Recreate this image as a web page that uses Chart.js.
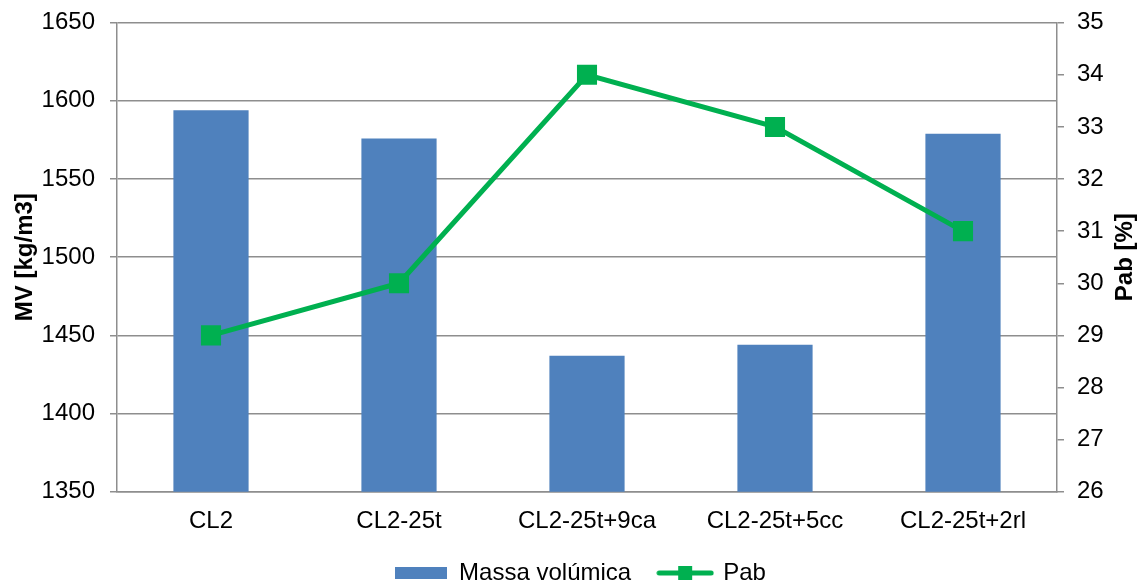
<!DOCTYPE html>
<html>
<head>
<meta charset="utf-8">
<script src="https://cdn.jsdelivr.net/npm/chart.js@4/dist/chart.umd.min.js"></script>
<style>
html,body{margin:0;padding:0;background:#fff;}
#wrap{width:1141px;height:583px;}
</style>
</head>
<body>
<div id="wrap"><canvas id="c" width="1141" height="583"></canvas></div>
<script>
const categories = ['CL2', 'CL2-25t', 'CL2-25t+9ca', 'CL2-25t+5cc', 'CL2-25t+2rl'];
const massaVolumica = [1594, 1576, 1437, 1444, 1579];
const pab = [29, 30, 34, 33, 31];
const leftTicks = [1350, 1400, 1450, 1500, 1550, 1600, 1650];
const rightTicks = [26, 27, 28, 29, 30, 31, 32, 33, 34, 35];

const BLUE = '#4F81BD';
const GREEN = '#00B050';
const GRID = '#8E8E8E';
const FONT = "'Liberation Sans', Arial, sans-serif";
const FS = 24;

function barLegendImg() {
  const c = document.createElement('canvas');
  c.width = 52; c.height = 12;
  const x = c.getContext('2d');
  x.fillStyle = BLUE; x.fillRect(0, 0, 52, 12);
  return c;
}
function lineLegendImg() {
  const c = document.createElement('canvas');
  c.width = 58; c.height = 16;
  const x = c.getContext('2d');
  x.strokeStyle = GREEN; x.lineWidth = 5; x.lineCap = 'round';
  x.beginPath(); x.moveTo(3, 8); x.lineTo(55, 8); x.stroke();
  x.fillStyle = GREEN; x.fillRect(22, 1, 14, 14);
  return c;
}

const rightTitle = {
  id: 'rightTitle',
  afterDraw(chart) {
    const ctx = chart.ctx, a = chart.chartArea;
    ctx.save();
    ctx.translate(1125, (a.top + a.bottom) / 2);
    ctx.rotate(-Math.PI / 2);
    ctx.font = "bold " + FS + "px " + FONT;
    ctx.fillStyle = '#000';
    ctx.textAlign = 'center';
    ctx.textBaseline = 'middle';
    ctx.fillText('Pab [%]', 0, 0);
    ctx.restore();
  }
};

const legendFix = {
  id: 'legendFix',
  afterInit(chart) {
    const lg = chart.legend;
    if (!lg) return;
    const orig = lg.fit.bind(lg);
    lg.fit = function () { orig(); this.height = 50; };
  },
  afterLayout(chart) {
    const lg = chart.legend;
    if (!lg) return;
    lg.left += 10; lg.right += 10;
  }
};

new Chart(document.getElementById('c'), {
  data: {
    labels: categories,
    datasets: [
      {
        type: 'bar', label: 'Massa volúmica', data: massaVolumica,
        backgroundColor: BLUE, yAxisID: 'y', order: 2,
        barPercentage: 0.4, categoryPercentage: 1.0
      },
      {
        type: 'line', label: 'Pab', data: pab, yAxisID: 'y1', order: 1,
        borderColor: GREEN, backgroundColor: GREEN, borderWidth: 5,
        pointStyle: 'rect', pointRadius: 14.2, pointHoverRadius: 14.2,
        pointBackgroundColor: GREEN, pointBorderWidth: 0, tension: 0
      }
    ]
  },
  options: {
    responsive: false,
    animation: false,
    layout: { padding: { top: 0, left: 0, right: 0, bottom: 0 } },
    plugins: {
      tooltip: { enabled: false },
      legend: {
        position: 'bottom',
        labels: {
          usePointStyle: true,
          pointStyleWidth: 52,
          padding: 28,
          color: '#000',
          font: { family: FONT, size: FS },
          generateLabels(chart) {
            return chart.data.datasets.map((ds, i) => ({
              text: ds.label,
              datasetIndex: i,
              pointStyle: i === 0 ? barLegendImg() : lineLegendImg(),
              fillStyle: ds.backgroundColor,
              strokeStyle: ds.backgroundColor,
              lineWidth: 0,
              hidden: false,
              fontColor: '#000'
            }));
          }
        }
      }
    },
    scales: {
      x: {
        grid: { display: false, drawTicks: false },
        border: { display: true, color: GRID, width: 1.5 },
        afterFit(s) { s.height = 41.3; },
        ticks: { color: '#000', padding: 15, font: { family: FONT, size: FS }, maxRotation: 0 }
      },
      y: {
        position: 'left',
        min: 1350, max: 1650,
        afterBuildTicks(s) { s.ticks = leftTicks.map(v => ({ value: v })); },
        afterFit(s) { s.width = 117; s.paddingTop = 22.7; },
        grid: { color: GRID, lineWidth: 1.5, tickLength: 7, drawTicks: true },
        border: { display: true, color: GRID, width: 1.5 },
        ticks: { color: '#000', padding: 15, font: { family: FONT, size: FS }, callback: v => String(v) },
        title: {
          display: true, text: 'MV [kg/m3]', color: '#000',
          font: { family: FONT, size: FS, weight: 'bold' },
          padding: { top: 11, bottom: 0 }
        }
      },
      y1: {
        position: 'right',
        min: 26, max: 35,
        afterBuildTicks(s) { s.ticks = rightTicks.map(v => ({ value: v })); },
        afterFit(s) { s.width = 84; s.paddingTop = 22.7; },
        grid: { drawOnChartArea: false, color: GRID, lineWidth: 1.5, tickLength: 7 },
        border: { display: true, color: GRID, width: 1.5 },
        ticks: { color: '#000', padding: 13, font: { family: FONT, size: FS }, callback: v => String(v) }
      }
    }
  },
  plugins: [rightTitle, legendFix]
});
</script>
</body>
</html>
